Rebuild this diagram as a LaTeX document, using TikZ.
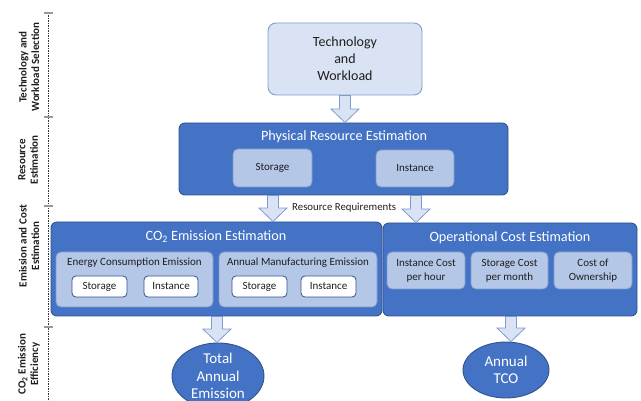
\documentclass[tikz,border=0pt]{standalone}
\usepackage{fontspec}
\setmainfont{Carlito}
\usetikzlibrary{calc,shapes.geometric}

\definecolor{dblue}{HTML}{4472C4}
\definecolor{dborder}{HTML}{2F528F}
\definecolor{mblue}{HTML}{B4C7E7}
\definecolor{lblue}{HTML}{DAE3F3}
\definecolor{lborder}{HTML}{7F9BCF}
\definecolor{txt}{HTML}{1E1E1E}

\tikzset{
  bigbox/.style={draw=dborder, fill=dblue, rounded corners=6pt, line width=0.9pt},
  subbox/.style={draw=lborder, fill=mblue, rounded corners=5pt, line width=0.8pt,
     text=txt, font=\fontsize{11}{14}\selectfont, align=center, inner sep=0pt},
  whitebox/.style={draw=dborder, fill=white, rounded corners=4pt, line width=0.8pt,
     text=txt, font=\fontsize{11}{13}\selectfont, inner sep=0pt},
  subtitle/.style={text=txt, font=\fontsize{11}{13}\selectfont, inner sep=0pt},
  topbox/.style={draw=lborder, fill=lblue, rounded corners=8pt, line width=0.9pt,
     text=txt, font=\fontsize{14}{17}\selectfont, align=center},
  boxtitle/.style={text=white, font=\fontsize{14.2}{16}\selectfont, inner sep=0pt},
  result/.style={ellipse, draw=dborder, fill=dblue, line width=0.9pt, text=white,
     font=\fontsize{15}{17.5}\selectfont, align=center, inner sep=0pt},
  phase/.style={rotate=90, font=\bfseries\fontsize{11}{12.5}\selectfont, text=txt, align=center},
  phasetick/.style={draw=gray!80, line width=2.4pt},
  axisline/.style={draw=black!80, line width=0.5pt, dash pattern=on 1.5pt off 1pt},
}

% wide hollow arrow pointing down from #1 to #2 (same x)
\newcommand{\fatarrow}[2]{%
  \path let \p1=(#1), \p2=(#2) in
    [draw=lborder, fill=lblue, line width=0.8pt]
    (\x1-5.5pt,\y1) -- (\x1+5.5pt,\y1) -- (\x1+5.5pt,\y2+13.5pt) -- (\x1+14pt,\y2+13.5pt)
    -- (\x1,\y2) -- (\x1-14pt,\y2+13.5pt) -- (\x1-5.5pt,\y2+13.5pt) -- cycle;}

\begin{document}
\begin{tikzpicture}[x=1pt,y=-1pt]
\useasboundingbox (0,0) rectangle (641,401);

% phase axis on the left
\coordinate (axtop) at (48,13);
\coordinate (axbot) at (48,401);
\path[axisline] (axtop) -- (axbot);
\foreach \yy in {13,117,206,327}{
  \path[phasetick] (43.5,\yy) -- (52.5,\yy);
}
\node[phase] (ph1) at (29,67) {Technology and\\Workload Selection};
\node[phase] (ph2) at (28,160) {Resource\\Estimation};
\node[phase] (ph3) at (29,246) {Emission and Cost\\Estimation};
\node[phase] (ph4) at (29,364) {CO\textsubscript{2} Emission\\Efficiency};

% input
\node[topbox, minimum width=154pt, minimum height=72pt] (tw) at (345,59)
  {Technology\\and\\Workload};

% physical resource estimation
\node[bigbox, minimum width=329pt, minimum height=72pt] (phys) at (343.5,159) {};
\node[boxtitle] (physt) at (344,137) {Physical Resource Estimation};
\node[subbox, minimum width=79pt, minimum height=38pt] (pstor) at (272.5,168) {Storage};
\node[subbox, minimum width=78pt, minimum height=37pt] (pinst) at (415,168.5) {Instance};

% CO2 emission estimation
\node[bigbox, minimum width=331pt, minimum height=94pt] (co2) at (216.5,269) {};
\node[boxtitle] (co2t) at (216,237) {CO\textsubscript{2} Emission Estimation};
\node[subbox, minimum width=157pt, minimum height=55pt] (ece) at (134.5,279.5) {};
\node[subtitle] (ecet) at (134.5,263) {Energy Consumption Emission};
\node[subbox, minimum width=158pt, minimum height=55pt] (ame) at (298,279.5) {};
\node[subtitle] (amet) at (298,263) {Annual Manufacturing Emission};
\node[whitebox, minimum width=55pt, minimum height=21pt] (es) at (99.5,286.5) {Storage};
\node[whitebox, minimum width=54pt, minimum height=21pt] (ei) at (171,286.5) {Instance};
\node[whitebox, minimum width=55pt, minimum height=21pt] (ms) at (259.5,286.5) {Storage};
\node[whitebox, minimum width=55pt, minimum height=21pt] (mi) at (328.5,286.5) {Instance};

% operational cost estimation
\node[bigbox, minimum width=254pt, minimum height=93pt] (op) at (510,269.5) {};
\node[boxtitle] (opt) at (510,238) {Operational Cost Estimation};
\node[subbox, minimum width=78pt, minimum height=37pt] (oc1) at (426,270.5) {Instance Cost\\per hour};
\node[subbox, minimum width=77pt, minimum height=37pt] (oc2) at (509.5,270.5) {Storage Cost\\per month};
\node[subbox, minimum width=78pt, minimum height=37pt] (oc3) at (593,270.5) {Cost of\\Ownership};

% results
\node[result, minimum width=92pt, minimum height=66pt] (tae) at (218,376) {Total\\Annual\\Emission};
\node[result, minimum width=86pt, minimum height=56pt] (tco) at (506,370) {Annual\\TCO};

% flow arrows
\coordinate (xl) at (273,0);
\coordinate (xr) at (416,0);
\coordinate (xe) at (217,0);
\coordinate (xc) at (511,0);
\fatarrow{tw.south}{phys.north}
\fatarrow{phys.south -| xl}{co2.north -| xl}
\fatarrow{phys.south -| xr}{op.north -| xr}
\fatarrow{co2.south -| xe}{tae.north -| xe}
\fatarrow{op.south -| xc}{tco.north -| xc}
\node[anchor=west, text=txt, font=\fontsize{10.8}{12}\selectfont, inner sep=0pt] (rr) at (292,208) {Resource Requirements};
\end{tikzpicture}
\end{document}
